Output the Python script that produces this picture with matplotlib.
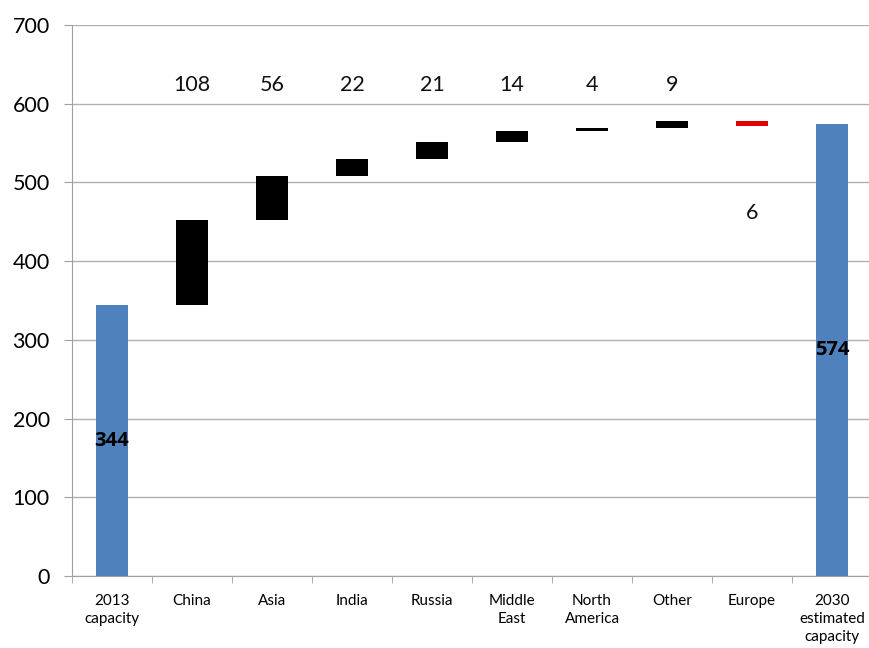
import matplotlib

matplotlib.use("Agg")
import matplotlib.pyplot as plt
import numpy as np

categories = ["2013\ncapacity", "China", "Asia", "India", "Russia", "Middle\nEast",
              "North\nAmerica", "Other", "Europe", "2030\nestimated\ncapacity"]
start_value = 344
end_value = 574
changes = [108, 56, 22, 21, 14, 4, 9, -6]
change_labels = ["108", "56", "22", "21", "14", "4", "9", "6"]

plt.rcParams["font.family"] = ["Lato", "DejaVu Sans"]

fig = plt.figure(figsize=(8.69, 6.48), dpi=100)
ax = fig.add_axes([0.0829, 0.1111, 0.9206, 0.8503])

x = np.arange(len(categories))
width = 0.4
blue = "#4f81bd"

# start and end totals
ax.bar(x[0], start_value, width, color=blue, zorder=3)
ax.bar(x[-1], end_value, width, color=blue, zorder=3)
for xi, v in [(x[0], start_value), (x[-1], end_value)]:
    ax.text(xi, v / 2, str(v), ha="center", va="center", fontsize=14.5,
            fontweight="bold", family=["Open Sans", "DejaVu Sans"], zorder=4)

# floating changes
level = start_value
for i, (d, lab) in enumerate(zip(changes, change_labels)):
    xi = x[i + 1]
    bottom = level if d >= 0 else level + d
    color = "black" if d >= 0 else "#e00000"
    ax.bar(xi, abs(d), width, bottom=bottom, color=color, zorder=3)
    ly = 624 if d >= 0 else 461
    ax.text(xi, ly, lab, ha="center", va="center", fontsize=15.5, color="#111111")
    level += d

ax.set_xlim(-0.5, len(categories) - 0.5)
ax.set_ylim(0, 700)
ax.set_yticks(np.arange(0, 701, 100))
ax.tick_params(axis="y", labelsize=15.5, length=6, color="#a0a0a0", pad=10)
ax.grid(True, axis="y", color="#b0b0b0", linewidth=1, zorder=0)

ax.set_xticks(x)
ax.set_xticklabels(categories, fontsize=11, va="top", linespacing=1.35)
ax.tick_params(axis="x", which="major", length=0, pad=13)
ax.set_xticks(np.arange(-0.5, len(categories), 1), minor=True)
ax.tick_params(axis="x", which="minor", length=5, color="#a0a0a0")

for s in ["top", "right"]:
    ax.spines[s].set_visible(False)
for s in ["left", "bottom"]:
    ax.spines[s].set_color("#a0a0a0")

fig.savefig("out.png", dpi=100)
